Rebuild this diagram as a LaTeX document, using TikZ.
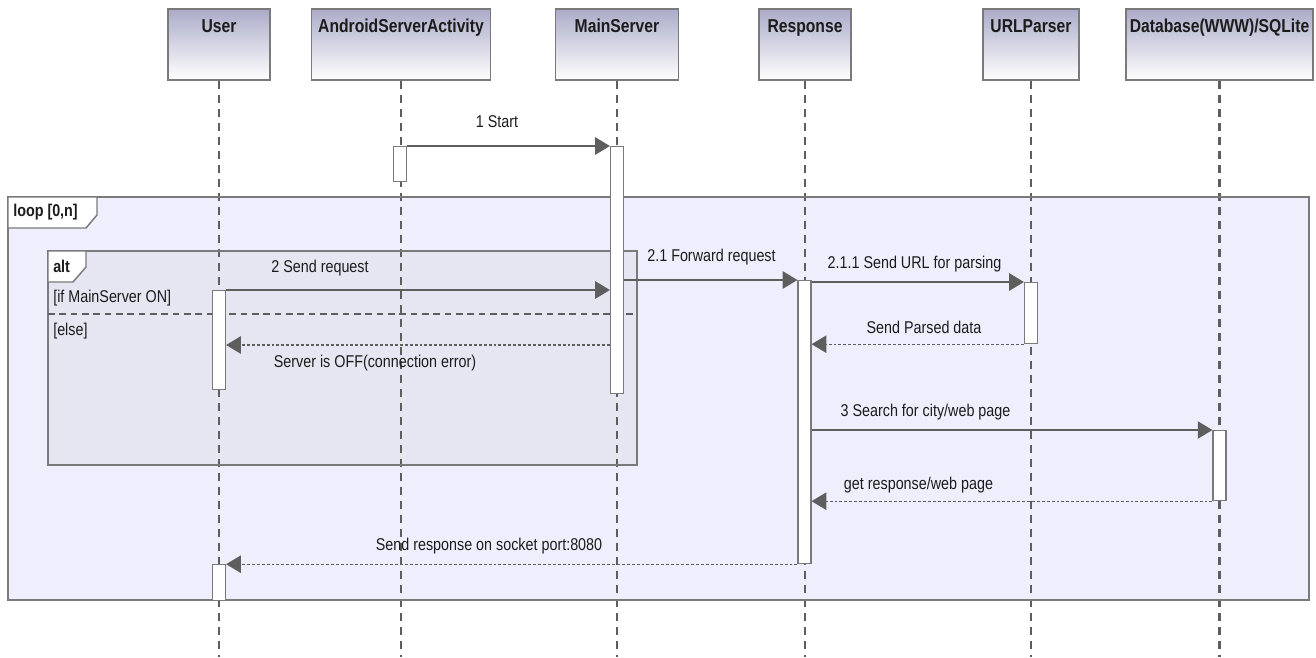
\documentclass[tikz,border=0pt]{standalone}
\usepackage{fontspec}
\setmainfont{Liberation Sans}[FakeStretch=0.84]
\usetikzlibrary{arrows.meta}
\definecolor{lncol}{HTML}{5E5E5E}
\definecolor{framecol}{HTML}{7A7A7A}
\definecolor{loopfill}{HTML}{EEEEFC}
\definecolor{altfill}{HTML}{E6E6F2}
\definecolor{headtop}{HTML}{ABABC9}
\definecolor{txt}{HTML}{1C1C1C}
\tikzset{
 headbox/.style={draw=framecol, line width=1.1pt, top color=headtop, bottom color=white, minimum height=53.25pt, inner sep=0pt},
 headtext/.style={font=\bfseries\fontsize{14}{16}\selectfont, text=txt, anchor=base, inner sep=0pt},
 lifeline/.style={draw=lncol, line width=1.6pt, dash pattern=on 6.5pt off 4pt},
 actbox/.style={draw=framecol, fill=white, line width=0.9pt, minimum width=9.75pt, inner sep=0pt, anchor=north},
 syncmsg/.style={draw=lncol, line width=1.1pt, -{Triangle[length=11pt,width=13pt]}},
 retmsg/.style={draw=lncol, line width=0.8pt, dash pattern=on 2.2pt off 1.5pt, -{Triangle[length=11pt,width=13pt]}},
 msglabel/.style={font=\fontsize{12.8}{14}\selectfont, text=txt, inner sep=0pt},
 framebox/.style={draw=framecol, line width=1.1pt},
 guard/.style={font=\fontsize{12.8}{14}\selectfont, text=txt, anchor=west, inner sep=0pt},
 altdiv/.style={draw=lncol, line width=1.5pt, dash pattern=on 5pt off 3.5pt},
}
\begin{document}
\begin{tikzpicture}[x=0.75pt,y=-0.75pt]
\useasboundingbox (0,0) rectangle (1316,657);
\coordinate (bottom) at (0,657);
% combined fragment fills
\path[fill=loopfill] (8,197) rectangle (1309,600);
\path[fill=altfill] (48,251) rectangle (637,465);
% lifeline heads
\node[headbox, minimum width=76.5pt] (user) at (219,44.5) {};
\node[headbox, minimum width=134.25pt] (asa) at (401,44.5) {};
\node[headbox, minimum width=92.25pt] (ms) at (617,44.5) {};
\node[headbox, minimum width=69pt] (resp) at (805,44.5) {};
\node[headbox, minimum width=72pt] (urlp) at (1031,44.5) {};
\node[headbox, minimum width=140.25pt] (db) at (1219.5,44.5) {};
\node[headtext] (usert) at (219,32) {User};
\node[headtext] (asat) at (401,32) {AndroidServerActivity};
\node[headtext] (mst) at (617,32) {MainServer};
\node[headtext] (respt) at (805,32) {Response};
\node[headtext] (urlpt) at (1031,32) {URLParser};
\node[headtext] (dbt) at (1219.5,32) {Database(WWW)/SQLite};
% lifelines
\draw[lifeline] (user.south) -- (user.south |- bottom);
\draw[lifeline] (asa.south) -- (asa.south |- bottom);
\draw[lifeline] (ms.south) -- (ms.south |- bottom);
\draw[lifeline] (resp.south) -- (resp.south |- bottom);
\draw[lifeline] (urlp.south) -- (urlp.south |- bottom);
\draw[lifeline] (db.south) -- (db.south |- bottom);
% loop frame
\draw[framebox] (8,197) rectangle (1309,600);
\draw[framebox, fill=white] (8,197) -- (97,197) -- (97,215) -- (86,228) -- (8,228) -- cycle;
\node[guard] (looplbl) at (13,212.5) {\bfseries loop [0,n]};
% alt frame
\draw[framebox] (48,251) rectangle (637,465);
\draw[framebox, fill=white] (48,251) -- (86,251) -- (86,267) -- (73,282) -- (48,282) -- cycle;
\node[guard] (altlbl) at (53,266.5) {\bfseries alt};
\node[guard] (g1) at (53,298) {[if MainServer ON]};
\node[guard] (g2) at (53,331.5) {[else]};
\draw[altdiv] (48,314) -- (637,314);
% activations
\node[actbox, minimum height={35*0.75pt}] (asa1) at (400,146) {};
\node[actbox, minimum height={247*0.75pt}] (ms1) at (617,146) {};
\node[actbox, minimum height={99*0.75pt}] (u1) at (219,290) {};
\node[actbox, minimum height={283*0.75pt}] (resp1) at (804.5,280) {};
\node[actbox, minimum height={61*0.75pt}] (urlp1) at (1031,282) {};
\node[actbox, minimum height={70*0.75pt}] (db1) at (1219.5,430) {};
\node[actbox, minimum height={36*0.75pt}] (u2) at (219,564) {};
% messages
\coordinate (offy) at (0,345);
\draw[syncmsg] (asa1.north east) -- (asa1.north east -| ms1.west);
\node[msglabel] (l1) at (497,122) {1 Start};
\draw[syncmsg] (u1.north east) -- (u1.north east -| ms1.west);
\node[msglabel] (l2) at (320,268.5) {2 Send request};
\draw[retmsg] (ms1.west |- offy) -- (u1.east |- offy);
\node[msglabel] (l3) at (375,363.5) {Server is OFF(connection error)};
\draw[syncmsg] (resp1.north west -| ms1.east) -- (resp1.north west);
\node[msglabel] (l4) at (711.5,257.5) {2.1 Forward request};
\draw[syncmsg] (urlp1.north west -| resp1.east) -- (urlp1.north west);
\node[msglabel] (l5) at (914.5,264) {2.1.1 Send URL for parsing};
\draw[retmsg] (urlp1.south west) -- (urlp1.south west -| resp1.east);
\node[msglabel] (l6) at (924,327.5) {Send Parsed data};
\draw[syncmsg] (db1.north west -| resp1.east) -- (db1.north west);
\node[msglabel] (l7) at (925.5,412) {3 Search for city/web page};
\draw[retmsg] (db1.south west) -- (db1.south west -| resp1.east);
\node[msglabel] (l8) at (918.5,485.5) {get response/web page};
\draw[retmsg] (resp1.south west) -- (resp1.south west -| u2.east);
\node[msglabel] (l9) at (489,546) {Send response on socket port:8080};
\end{tikzpicture}
\end{document}
